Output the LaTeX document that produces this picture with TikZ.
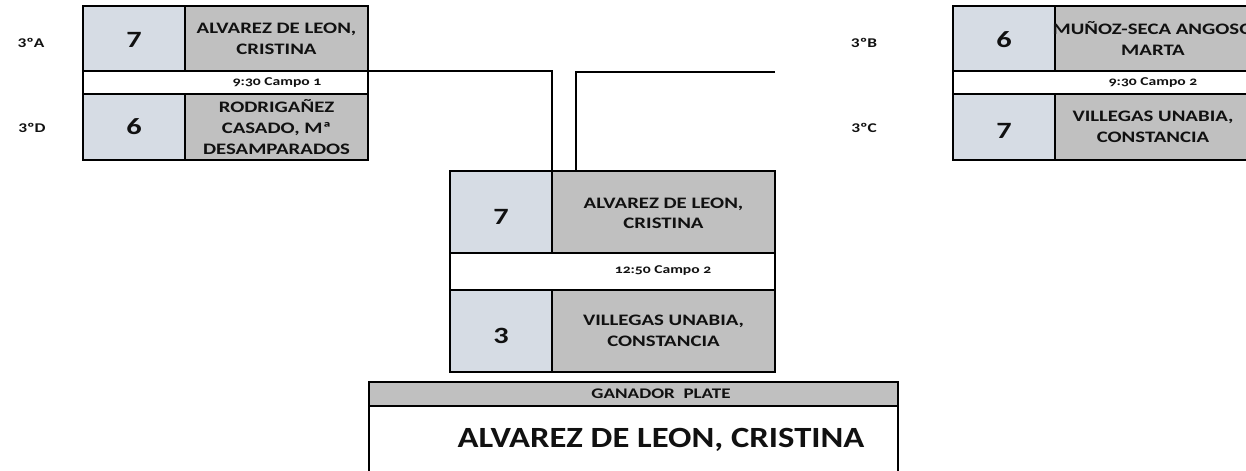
\documentclass[tikz,border=0pt]{standalone}
\usepackage{fontspec}
\setmainfont{Carlito}
\newfontfamily\widefont{Carlito}[FakeStretch=1.3]
\newfontfamily\widenum{Carlito}[FakeStretch=1.3, Numbers=OldStyle]
\newfontfamily\winfont{Carlito}[FakeStretch=1.18]
\usetikzlibrary{fit}
\definecolor{scorefill}{HTML}{D6DCE4}
\definecolor{namefill}{HTML}{C0C0C0}
\definecolor{ink}{HTML}{111111}
\begin{document}
\begin{tikzpicture}[x=0.75pt,y=-0.75pt,
  cell/.style={draw=black, line width=1.5pt, inner sep=0pt, outer sep=0pt},
  scorecell/.style={cell, fill=scorefill},
  namecell/.style={cell, fill=namefill},
  stripcell/.style={cell, fill=white},
  headcell/.style={cell, fill=namefill},
  wincell/.style={cell, fill=white},
  scoretext/.style={text=ink, inner sep=0pt, font=\widefont\bfseries\fontsize{17.5}{20}\selectfont},
  nametext/.style={text=ink, inner sep=0pt, align=center, font=\widefont\bfseries\fontsize{12}{15.6}\selectfont},
  name3text/.style={nametext, font=\widefont\bfseries\fontsize{12}{16}\selectfont},
  striptext/.style={text=ink, inner sep=0pt, font=\widenum\bfseries\fontsize{9}{10}\selectfont},
  grouplabel/.style={text=ink, inner sep=0pt, font=\widefont\bfseries\fontsize{10}{11}\selectfont},
  headtext/.style={text=ink, inner sep=0pt, font=\widefont\bfseries\fontsize{11}{12}\selectfont},
  wintext/.style={text=ink, inner sep=0pt, font=\winfont\bfseries\fontsize{22}{26}\selectfont},
  link/.style={draw=black, line width=1.5pt}
]
\path[use as bounding box] (0,0) rectangle (1246,471);
\clip (0,0) rectangle (1246,471);

% group labels
\node[grouplabel] (lA) at (31,43) {3ºA};
\node[grouplabel] (lD) at (32,128) {3ºD};
\node[grouplabel] (lB) at (864,43) {3ºB};
\node[grouplabel] (lC) at (864,128) {3ºC};

% match 1 (left)
\node[scorecell, fit={(83,6) (185,71)}] (As) {};
\node[namecell, fit={(185,6) (368,71)}] (An) {};
\node[stripcell, fit={(83,71) (368,94)}] (Am) {};
\node[scorecell, fit={(83,94) (185,160)}] (Ds) {};
\node[namecell, fit={(185,94) (368,160)}] (Dn) {};
\node[scoretext] (Ast) at ([yshift=-1pt]As.center) {7};
\node[nametext] (Ant) at (An.center) {ALVAREZ DE LEON,\\CRISTINA};
\node[striptext] (Amt) at (277,83) {9:30 Campo 1};
\node[scoretext] (Dst) at (Ds.center) {6};
\node[name3text] (Dnt) at (Dn.center) {RODRIGAÑEZ\\CASADO, Mª\\DESAMPARADOS};

% match 2 (right)
\node[scorecell, fit={(953,6) (1055,71)}] (Bs) {};
\node[namecell, fit={(1055,6) (1250,71)}] (Bn) {};
\node[stripcell, fit={(953,71) (1250,94)}] (Bm) {};
\node[scorecell, fit={(953,94) (1055,160)}] (Cs) {};
\node[namecell, fit={(1055,94) (1250,160)}] (Cn) {};
\node[scoretext] (Bst) at ([yshift=-1pt]Bs.center) {6};
\node[nametext] (Bnt) at (1153,38.5) {MUÑOZ-SECA ANGOSO\\MARTA};
\node[striptext] (Bmt) at (1153,83) {9:30 Campo 2};
\node[scoretext] (Cst) at ([yshift=-3pt]Cs.center) {7};
\node[nametext] (Cnt) at (1153,127) {VILLEGAS UNABIA,\\CONSTANCIA};

% final
\node[scorecell, fit={(450,171) (552,253)}] (F1s) {};
\node[namecell, fit={(552,171) (775,253)}] (F1n) {};
\node[stripcell, fit={(450,253) (775,290)}] (Fm) {};
\node[scorecell, fit={(450,290) (552,372)}] (F2s) {};
\node[namecell, fit={(552,290) (775,372)}] (F2n) {};
\node[scoretext] (F1st) at ([yshift=-4pt]F1s.center) {7};
\node[nametext] (F1nt) at ([yshift=-1pt]F1n.center) {ALVAREZ DE LEON,\\CRISTINA};
\node[striptext] (Fmt) at (663,271) {12:50 Campo 2};
\node[scoretext] (F2st) at ([yshift=-4pt]F2s.center) {3};
\node[nametext] (F2nt) at (F2n.center) {VILLEGAS UNABIA,\\CONSTANCIA};

% winner
\node[headcell, fit={(369,382) (898,406)}] (Wh) {};
\node[wincell, fit={(369,406) (898,485)}] (Wb) {};
\node[headtext] (Wht) at (661,394) {GANADOR\ \ PLATE};
\node[wintext] (Wbt) at (661,440) {ALVAREZ DE LEON, CRISTINA};

% connectors
\coordinate (rEnd) at (775,72);
\draw[link] (Am.north east) -| (F1s.north east);
\draw[link] (rEnd) -| ([xshift=18pt]F1n.north west);
\end{tikzpicture}
\end{document}
